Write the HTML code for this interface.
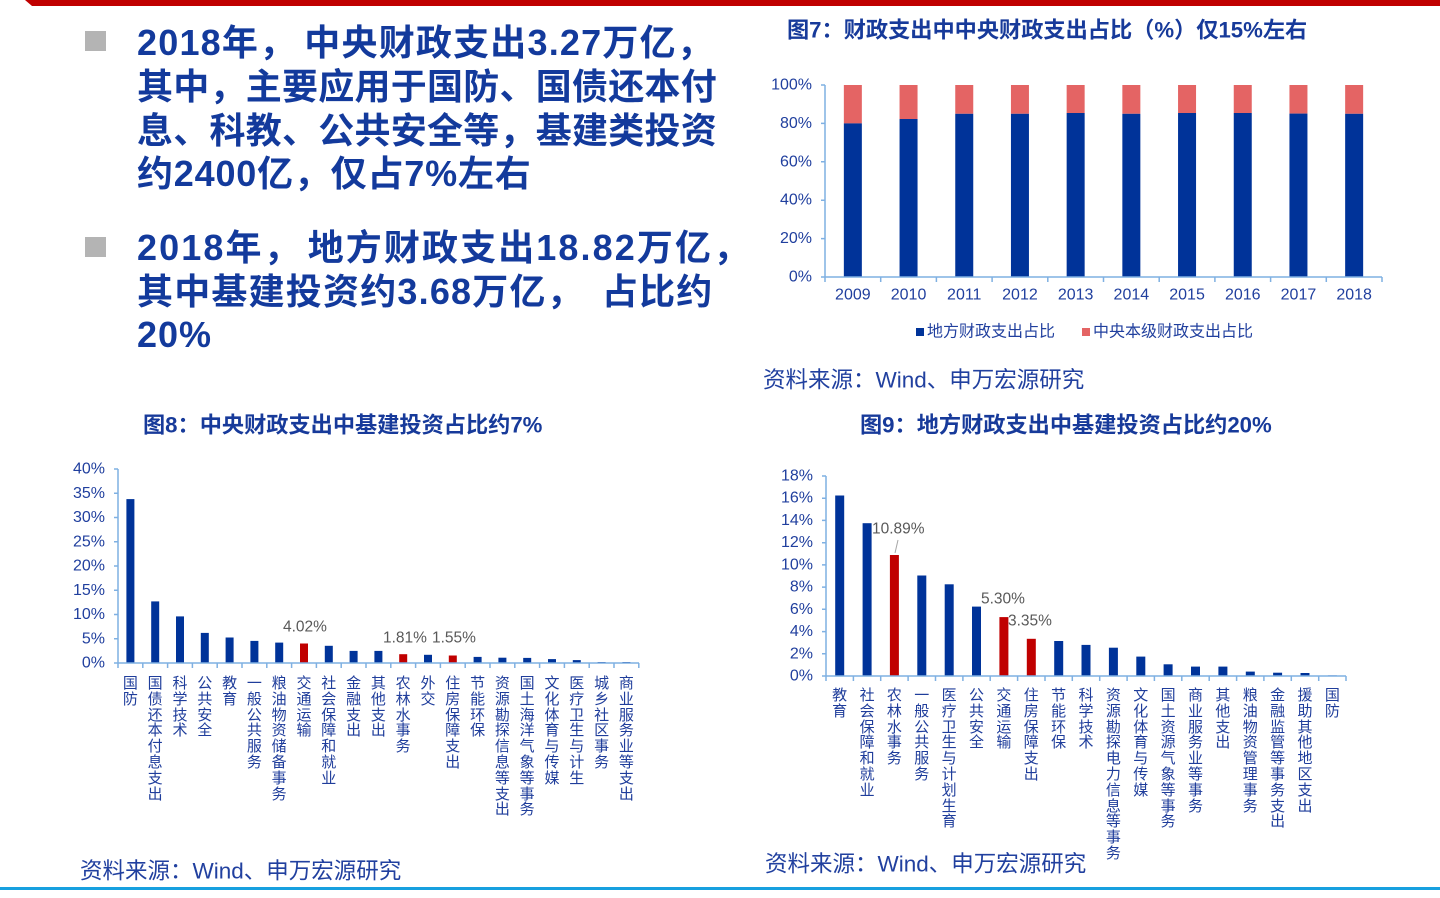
<!DOCTYPE html>
<html>
<head>
<meta charset="utf-8">
<style>
html,body{margin:0;padding:0;background:#fff;}
body{width:1440px;height:898px;position:relative;overflow:hidden;font-family:"Liberation Sans","Noto Sans CJK SC",sans-serif;}
.ln{position:absolute;left:137px;white-space:nowrap;font-size:36px;font-weight:bold;color:#133a9c;line-height:44px;height:44px;font-family:"Liberation Sans","Noto Sans CJK SC",sans-serif;}
.bul{position:absolute;left:85px;width:21px;height:20px;background:#b4b4b4;}
.vl{position:absolute;width:16px;font-size:15px;line-height:15.8px;color:#1f3d9b;text-align:center;word-break:break-all;font-family:"Liberation Sans","Noto Sans CJK SC",sans-serif;}
.vl8{top:676px;}
.vl9{top:688px;}
svg{position:absolute;left:0;top:0;}
</style>
</head>
<body>
<svg width="1440" height="898" viewBox="0 0 1440 898" xmlns="http://www.w3.org/2000/svg" font-family="Liberation Sans, Noto Sans CJK SC, sans-serif">
  <polygon points="25,0 1440,0 1440,6 32,6" fill="#c00000"/>
  <rect x="0" y="887" width="1440" height="3" fill="#17a0df"/>

  <!-- ============ Chart 7 ============ -->
  <text x="787" y="30" dominant-baseline="central" font-size="22.2" font-weight="bold" fill="#173a9a">图7：财政支出中中央财政支出占比（%）仅15%左右</text>
  <g font-size="16" fill="#203f9e" text-anchor="end" dominant-baseline="central">
    <text x="812" y="85">100%</text>
    <text x="812" y="123.4">80%</text>
    <text x="812" y="161.8">60%</text>
    <text x="812" y="200.2">40%</text>
    <text x="812" y="238.6">20%</text>
    <text x="812" y="277">0%</text>
  </g>
  <g fill="#e46464">
    <rect x="843.85" y="85" width="18" height="38.4"/>
    <rect x="899.55" y="85" width="18" height="34"/>
    <rect x="955.25" y="85" width="18" height="28.8"/>
    <rect x="1010.95" y="85" width="18" height="28.8"/>
    <rect x="1066.65" y="85" width="18" height="28"/>
    <rect x="1122.35" y="85" width="18" height="28.8"/>
    <rect x="1178.05" y="85" width="18" height="28"/>
    <rect x="1233.75" y="85" width="18" height="28"/>
    <rect x="1289.45" y="85" width="18" height="28.6"/>
    <rect x="1345.15" y="85" width="18" height="28.8"/>
  </g>
  <g fill="#003399">
    <rect x="843.85" y="123.4" width="18" height="153.6"/>
    <rect x="899.55" y="119" width="18" height="158"/>
    <rect x="955.25" y="113.8" width="18" height="163.2"/>
    <rect x="1010.95" y="113.8" width="18" height="163.2"/>
    <rect x="1066.65" y="113" width="18" height="164"/>
    <rect x="1122.35" y="113.8" width="18" height="163.2"/>
    <rect x="1178.05" y="113" width="18" height="164"/>
    <rect x="1233.75" y="113" width="18" height="164"/>
    <rect x="1289.45" y="113.6" width="18" height="163.4"/>
    <rect x="1345.15" y="113.8" width="18" height="163.2"/>
  </g>
  <path d="M825 85V277H1382 M821 85H825 M821 123.4H825 M821 161.8H825 M821 200.2H825 M821 238.6H825 M821 277H825 M825 277V282 M880.7 277V282 M936.4 277V282 M992.1 277V282 M1047.8 277V282 M1103.5 277V282 M1159.2 277V282 M1214.9 277V282 M1270.6 277V282 M1326.3 277V282 M1382 277V282" stroke="#7fb0e2" stroke-width="1.5" fill="none"/>
  <g font-size="16" fill="#203f9e" text-anchor="middle" dominant-baseline="central">
    <text x="852.85" y="295">2009</text>
    <text x="908.55" y="295">2010</text>
    <text x="964.25" y="295">2011</text>
    <text x="1019.95" y="295">2012</text>
    <text x="1075.65" y="295">2013</text>
    <text x="1131.35" y="295">2014</text>
    <text x="1187.05" y="295">2015</text>
    <text x="1242.75" y="295">2016</text>
    <text x="1298.45" y="295">2017</text>
    <text x="1354.15" y="295">2018</text>
  </g>
  <rect x="916" y="328" width="8" height="8" fill="#003399"/>
  <text x="927" y="332" dominant-baseline="central" font-size="16" fill="#203f9e">地方财政支出占比</text>
  <rect x="1082" y="328" width="8" height="8" fill="#e46464"/>
  <text x="1093" y="332" dominant-baseline="central" font-size="16" fill="#203f9e">中央本级财政支出占比</text>
  <text x="763" y="380" dominant-baseline="central" font-size="22.5" fill="#21409f">资料来源：Wind、申万宏源研究</text>

  <!-- ============ Chart 8 ============ -->
  <text x="143" y="425" dominant-baseline="central" font-size="22.2" font-weight="bold" fill="#173a9a">图8：中央财政支出中基建投资占比约7%</text>
  <g font-size="16" fill="#203f9e" text-anchor="end" dominant-baseline="central">
    <text x="105" y="469">40%</text>
    <text x="105" y="493.25">35%</text>
    <text x="105" y="517.5">30%</text>
    <text x="105" y="541.75">25%</text>
    <text x="105" y="566">20%</text>
    <text x="105" y="590.25">15%</text>
    <text x="105" y="614.5">10%</text>
    <text x="105" y="638.75">5%</text>
    <text x="105" y="663">0%</text>
  </g>
  <g fill="#003399">
    <rect x="126.4" y="499.1" width="8" height="163.9"/>
    <rect x="151.2" y="601.4" width="8" height="61.6"/>
    <rect x="176" y="616.4" width="8" height="46.6"/>
    <rect x="200.8" y="632.9" width="8" height="30.1"/>
    <rect x="225.6" y="637.5" width="8" height="25.5"/>
    <rect x="250.4" y="640.9" width="8" height="22.1"/>
    <rect x="275.2" y="642.6" width="8" height="20.4"/>
    <rect x="324.8" y="645.8" width="8" height="17.2"/>
    <rect x="349.6" y="650.9" width="8" height="12.1"/>
    <rect x="374.4" y="650.9" width="8" height="12.1"/>
    <rect x="424" y="654.8" width="8" height="8.2"/>
    <rect x="473.6" y="656.9" width="8" height="6.1"/>
    <rect x="498.4" y="657.7" width="8" height="5.3"/>
    <rect x="523.2" y="657.9" width="8" height="5.1"/>
    <rect x="548" y="659.1" width="8" height="3.9"/>
    <rect x="572.8" y="660.1" width="8" height="2.9"/>
    <rect x="597.6" y="662" width="8" height="1"/>
    <rect x="622.4" y="662" width="8" height="1"/>
  </g>
  <g fill="#c00000">
    <rect x="300" y="643.5" width="8" height="19.5"/>
    <rect x="399.2" y="654.2" width="8" height="8.8"/>
    <rect x="448.8" y="655.5" width="8" height="7.5"/>
  </g>
  <path d="M118 469V663H639 M114 469H118 M114 493.25H118 M114 517.5H118 M114 541.75H118 M114 566H118 M114 590.25H118 M114 614.5H118 M114 638.75H118 M114 663H118 M118 663V668 M142.8 663V668 M167.6 663V668 M192.4 663V668 M217.2 663V668 M242 663V668 M266.8 663V668 M291.6 663V668 M316.4 663V668 M341.2 663V668 M366 663V668 M390.8 663V668 M415.6 663V668 M440.4 663V668 M465.2 663V668 M490 663V668 M514.8 663V668 M539.6 663V668 M564.4 663V668 M589.2 663V668 M614 663V668 M638.8 663V668" stroke="#7fb0e2" stroke-width="1.5" fill="none"/>
  <g font-size="15.5" fill="#595959" dominant-baseline="central">
    <text x="283" y="627">4.02%</text>
    <text x="383" y="638">1.81%</text>
    <text x="432" y="638">1.55%</text>
  </g>
  <text x="80" y="871" dominant-baseline="central" font-size="22.5" fill="#21409f">资料来源：Wind、申万宏源研究</text>

  <!-- ============ Chart 9 ============ -->
  <text x="860" y="425" dominant-baseline="central" font-size="22.2" font-weight="bold" fill="#173a9a">图9：地方财政支出中基建投资占比约20%</text>
  <g font-size="16" fill="#203f9e" text-anchor="end" dominant-baseline="central">
    <text x="813" y="476">18%</text>
    <text x="813" y="498.2">16%</text>
    <text x="813" y="520.4">14%</text>
    <text x="813" y="542.7">12%</text>
    <text x="813" y="564.9">10%</text>
    <text x="813" y="587.1">8%</text>
    <text x="813" y="609.3">6%</text>
    <text x="813" y="631.6">4%</text>
    <text x="813" y="653.8">2%</text>
    <text x="813" y="676">0%</text>
  </g>
  <g fill="#003399">
    <rect x="835.2" y="495.5" width="9" height="180.5"/>
    <rect x="862.6" y="523.2" width="9" height="152.8"/>
    <rect x="917.3" y="575.5" width="9" height="100.5"/>
    <rect x="944.7" y="584.3" width="9" height="91.7"/>
    <rect x="972" y="606.6" width="9" height="69.4"/>
    <rect x="1054.2" y="641" width="9" height="35"/>
    <rect x="1081.5" y="644.9" width="9" height="31.1"/>
    <rect x="1108.9" y="647.7" width="9" height="28.3"/>
    <rect x="1136.3" y="656.6" width="9" height="19.4"/>
    <rect x="1163.6" y="664.3" width="9" height="11.7"/>
    <rect x="1191" y="666.6" width="9" height="9.4"/>
    <rect x="1218.4" y="666.6" width="9" height="9.4"/>
    <rect x="1245.8" y="671.6" width="9" height="4.4"/>
    <rect x="1273.1" y="672.7" width="9" height="3.3"/>
    <rect x="1300.5" y="673" width="9" height="3"/>
    <rect x="1327.9" y="675.1" width="9" height="0.9" fill="#9fb3da"/>
  </g>
  <g fill="#c00000">
    <rect x="889.9" y="555" width="9" height="121"/>
    <rect x="999.4" y="617.1" width="9" height="58.9"/>
    <rect x="1026.8" y="638.8" width="9" height="37.2"/>
  </g>
  <path d="M826 476V676H1346 M822 476H826 M822 498.2H826 M822 520.4H826 M822 542.7H826 M822 564.9H826 M822 587.1H826 M822 609.3H826 M822 631.6H826 M822 653.8H826 M822 676H826 M826 676V681 M853.4 676V681 M880.7 676V681 M908.1 676V681 M935.5 676V681 M962.9 676V681 M990.2 676V681 M1017.6 676V681 M1045 676V681 M1072.3 676V681 M1099.7 676V681 M1127.1 676V681 M1154.4 676V681 M1181.8 676V681 M1209.2 676V681 M1236.6 676V681 M1263.9 676V681 M1291.3 676V681 M1318.7 676V681 M1346 676V681" stroke="#7fb0e2" stroke-width="1.5" fill="none"/>
  <line x1="898" y1="540" x2="895" y2="553" stroke="#a6a6a6" stroke-width="1"/>
  <g font-size="15.5" fill="#595959" dominant-baseline="central">
    <text x="872" y="529">10.89%</text>
    <text x="981" y="599">5.30%</text>
    <text x="1008" y="621">3.35%</text>
  </g>
  <text x="765" y="864" dominant-baseline="central" font-size="22.5" fill="#21409f">资料来源：Wind、申万宏源研究</text>
</svg>

<div class="bul" style="top:31px;"></div>
<div class="ln" style="top:21px;letter-spacing:1.2px;">2018年，<span style="margin-left:8px"></span>中央财政支出3.27万亿，</div>
<div class="ln" style="top:65px;letter-spacing:0.25px;">其中，主要应用于国防、国债还本付</div>
<div class="ln" style="top:109px;letter-spacing:0.25px;">息、科教、公共安全等，基建类投资</div>
<div class="ln" style="top:152px;letter-spacing:0.8px;">约2400亿，仅占7%左右</div>

<div class="bul" style="top:237px;"></div>
<div class="ln" style="top:226px;letter-spacing:2.1px;">2018年，<span style="margin-left:6px"></span>地方财政支出18.82万亿，</div>
<div class="ln" style="top:270px;letter-spacing:1.2px;">其中基建投资约3.68万亿，<span style="margin-left:18px"></span>占比约</div>
<div class="ln" style="top:313px;letter-spacing:1px;">20%</div>

<div class="vl vl8" style="left:122.4px">国防</div>
<div class="vl vl8" style="left:147.2px">国债还本付息支出</div>
<div class="vl vl8" style="left:172px">科学技术</div>
<div class="vl vl8" style="left:196.8px">公共安全</div>
<div class="vl vl8" style="left:221.6px">教育</div>
<div class="vl vl8" style="left:246.4px">一般公共服务</div>
<div class="vl vl8" style="left:271.2px">粮油物资储备事务</div>
<div class="vl vl8" style="left:296px">交通运输</div>
<div class="vl vl8" style="left:320.8px">社会保障和就业</div>
<div class="vl vl8" style="left:345.6px">金融支出</div>
<div class="vl vl8" style="left:370.4px">其他支出</div>
<div class="vl vl8" style="left:395.2px">农林水事务</div>
<div class="vl vl8" style="left:420px">外交</div>
<div class="vl vl8" style="left:444.8px">住房保障支出</div>
<div class="vl vl8" style="left:469.6px">节能环保</div>
<div class="vl vl8" style="left:494.4px">资源勘探信息等支出</div>
<div class="vl vl8" style="left:519.2px">国土海洋气象等事务</div>
<div class="vl vl8" style="left:544px">文化体育与传媒</div>
<div class="vl vl8" style="left:568.8px">医疗卫生与计生</div>
<div class="vl vl8" style="left:593.6px">城乡社区事务</div>
<div class="vl vl8" style="left:618.4px">商业服务业等支出</div>

<div class="vl vl9" style="left:831.7px">教育</div>
<div class="vl vl9" style="left:859.1px">社会保障和就业</div>
<div class="vl vl9" style="left:886.4px">农林水事务</div>
<div class="vl vl9" style="left:913.8px">一般公共服务</div>
<div class="vl vl9" style="left:941.2px">医疗卫生与计划生育</div>
<div class="vl vl9" style="left:968.5px">公共安全</div>
<div class="vl vl9" style="left:995.9px">交通运输</div>
<div class="vl vl9" style="left:1023.3px">住房保障支出</div>
<div class="vl vl9" style="left:1050.7px">节能环保</div>
<div class="vl vl9" style="left:1078px">科学技术</div>
<div class="vl vl9" style="left:1105.4px">资源勘探电力信息等事务</div>
<div class="vl vl9" style="left:1132.8px">文化体育与传媒</div>
<div class="vl vl9" style="left:1160.1px">国土资源气象等事务</div>
<div class="vl vl9" style="left:1187.5px">商业服务业等事务</div>
<div class="vl vl9" style="left:1214.9px">其他支出</div>
<div class="vl vl9" style="left:1242.3px">粮油物资管理事务</div>
<div class="vl vl9" style="left:1269.6px">金融监管等事务支出</div>
<div class="vl vl9" style="left:1297px">援助其他地区支出</div>
<div class="vl vl9" style="left:1324.4px">国防</div>
</body>
</html>
